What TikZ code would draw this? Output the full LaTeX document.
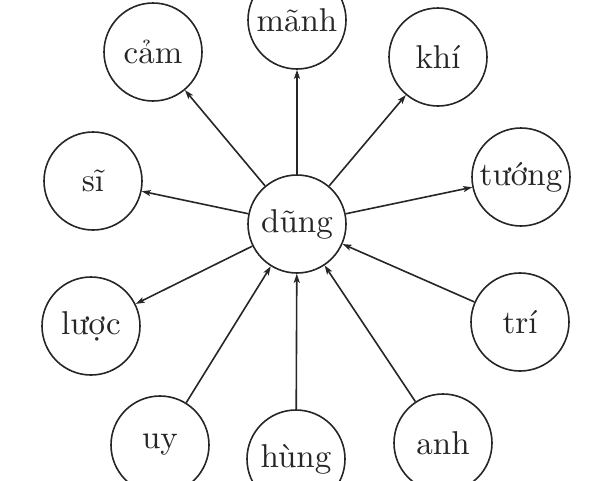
\documentclass[tikz,border=0pt]{standalone}
\usepackage{fontspec}
\setmainfont{lmroman10-regular}[Extension=.otf]
\usepackage{tikz}
\usetikzlibrary{arrows.meta}
\tikzset{
    word/.style={
        draw,
        circle,
        fill=white,
        line width=1.6pt,
        minimum size=98pt,
        inner sep=0pt,
        font=\fontsize{33}{40}\selectfont
    },
    link/.style={
        draw,
        line width=1.6pt,
        -{Stealth[length=9pt, width=6pt, inset=2pt]}
    }
}
\begin{document}
\begin{tikzpicture}[x=1pt, y=-1pt, color=black!85]
  \useasboundingbox (0,0) rectangle (600,480);

  % Centre word
  \node[word] (dung) at (297,224) {dũng};

  % Words around it
  \node[word] (manh) at (297,20) {mãnh};
  \node[word] (cam) at (153,52) {cảm};
  \node[word] (khi) at (438,57) {khí};
  \node[word] (si) at (93,181) {sĩ};
  \node[word] (tuong) at (521,177) {tướng};
  \node[word] (luoc) at (91,326) {lược};
  \node[word] (tri) at (520,322) {trí};
  \node[word] (uy) at (160,445) {uy};
  \node[word] (hung) at (296,459) {hùng};
  \node[word] (anh) at (443,443) {anh};

  % Outward arrows
  \draw[link] (dung) -- (manh);
  \draw[link] (dung) -- (cam);
  \draw[link] (dung) -- (khi);
  \draw[link] (dung) -- (si);
  \draw[link] (dung) -- (tuong);
  \draw[link] (dung) -- (luoc);

  % Inward arrows
  \draw[link] (tri) -- (dung);
  \draw[link] (uy) -- (dung);
  \draw[link] (hung) -- (dung);
  \draw[link] (anh) -- (dung);
\end{tikzpicture}
\end{document}
